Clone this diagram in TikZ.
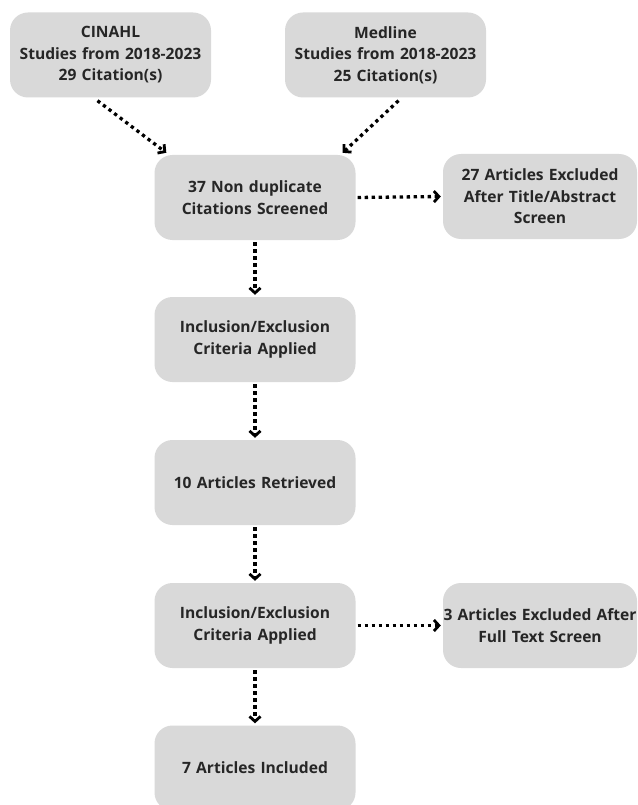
\documentclass[tikz,border=0pt]{standalone}
\usepackage{fontspec}
\setmainfont{Open Sans}
\usetikzlibrary{arrows.meta,calc}
\definecolor{boxfill}{HTML}{D9D9D9}
\definecolor{txt}{HTML}{262626}
\begin{document}
\begin{tikzpicture}[x=1pt,y=-1pt,
  box/.style={draw=none,fill=boxfill,rounded corners=18pt,minimum width=201pt,minimum height=85pt,
    text width=198pt,align=center,inner sep=0pt,text=txt,
    font=\fontsize{15.6}{21.5}\selectfont\bfseries},
  sidebox/.style={box,minimum width=194pt,text width=194pt},
  flow/.style={line width=3.3pt,dash pattern=on 3.3pt off 3.7pt,
    -{Straight Barb[length=5pt,width=11pt,line width=2.8pt]}}]
\useasboundingbox (0,0) rectangle (637,805);
\fill[white] (0,0) rectangle (637,805);
\node[box] (cin) at (110.5,55) {CINAHL\\Studies from 2018-2023\\29 Citation(s)};
\node[box] (med) at (385.5,55) {Medline\\Studies from 2018-2023\\25 Citation(s)};
\node[box] (scr) at (255,197.5) {37 Non duplicate\\Citations Screened};
\node[sidebox] (ex1) at (540,196.5) {27 Articles Excluded\\After Title/Abstract\\Screen};
\node[box] (inc1) at (255,339.5) {Inclusion/Exclusion\\Criteria Applied};
\node[box] (ret) at (255,482.5) {10 Articles Retrieved};
\node[box] (inc2) at (255,625.5) {Inclusion/Exclusion\\Criteria Applied};
\node[sidebox] (ex2) at (540,625.5) {3 Articles Excluded After\\Full Text Screen};
\node[box] (incl) at (255,768) {7 Articles Included};
\draw[flow] ($(cin.south)+(-13,3)$) -- ($(scr.north west)+(12,-2)$);
\draw[flow] ($(med.south)+(13,3)$) -- ($(scr.north east)+(-13,-2)$);
\draw[flow] ($(scr.east)+(2,0)$) -- ($(ex1.west)+(-2,0)$);
\draw[flow] ($(scr.south)+(0,2)$) -- ($(inc1.north)+(0,-2)$);
\draw[flow] ($(inc1.south)+(0,2)$) -- ($(ret.north)+(0,-2)$);
\draw[flow] ($(ret.south)+(0,2)$) -- ($(inc2.north)+(0,-2)$);
\draw[flow] ($(inc2.east)+(2,0)$) -- ($(ex2.west)+(-2,0)$);
\draw[flow] ($(inc2.south)+(0,2)$) -- ($(incl.north)+(0,-2)$);
\end{tikzpicture}
\end{document}
